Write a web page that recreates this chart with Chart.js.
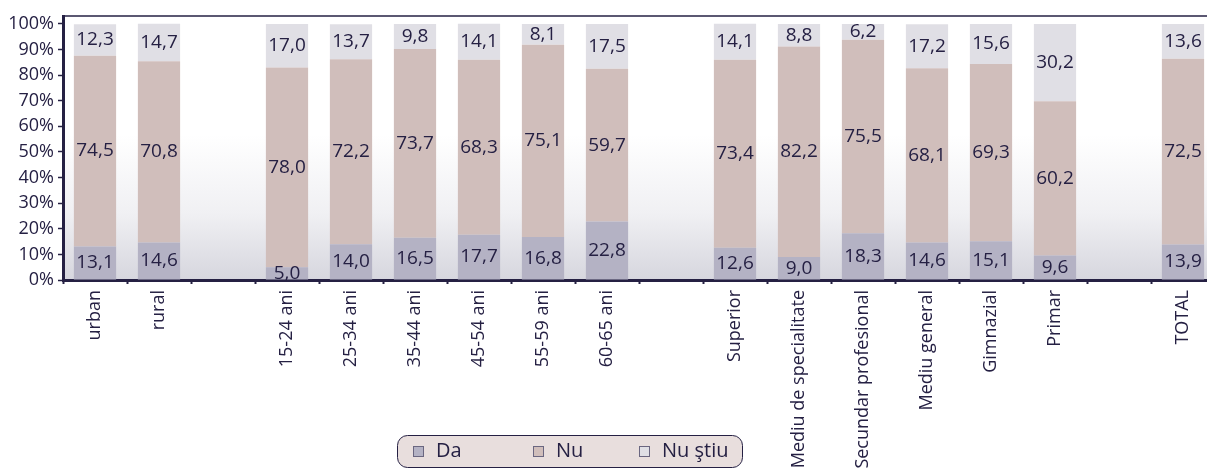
<!DOCTYPE html>
<html>
<head>
<meta charset="utf-8">
<script src="https://cdn.jsdelivr.net/npm/chart.js@4.4.1/dist/chart.umd.min.js"></script>
<style>
  html, body { margin: 0; padding: 0; background: #fff; overflow: hidden; }
  #wrap { width: 1207px; height: 469px; overflow: hidden; position: relative; }
  #grafic { display: block; }
</style>
</head>
<body>
<div id="wrap"><canvas id="grafic" width="1216" height="469"></canvas></div>
<script>
// categorii (golurile separă grupele)
const categorii = ['urban', 'rural', '', '15-24 ani', '25-34 ani', '35-44 ani', '45-54 ani', '55-59 ani', '60-65 ani', '',
    'Superior', 'Mediu de specialitate', 'Secundar profesional', 'Mediu general', 'Gimnazial', 'Primar', '', 'TOTAL'];

// procente pe fiecare răspuns
const da = [13.1, 14.6, null, 5.0, 14.0, 16.5, 17.7, 16.8, 22.8, null, 12.6, 9.0, 18.3, 14.6, 15.1, 9.6, null, 13.9];
const nu = [74.5, 70.8, null, 78.0, 72.2, 73.7, 68.3, 75.1, 59.7, null, 73.4, 82.2, 75.5, 68.1, 69.3, 60.2, null, 72.5];
const nuStiu = [12.3, 14.7, null, 17.0, 13.7, 9.8, 14.1, 8.1, 17.5, null, 14.1, 8.8, 6.2, 17.2, 15.6, 30.2, null, 13.6];

const serii = ['Da', 'Nu', 'Nu ştiu'];
const culori = ['#b4b2c4', '#d0bebb', '#e0dfe5'];

// valori axa Y
const ticksY = [0, 10, 20, 30, 40, 50, 60, 70, 80, 90, 100];

const albastru = '#252043';
const font = '"Open Sans", "Noto Sans", sans-serif';

// fundal cu degrade în zona graficului
const fundal = {
    id: 'fundal',
    beforeDraw(chart) {
        const { ctx, chartArea: a } = chart;
        const g = ctx.createLinearGradient(0, a.top, 0, a.bottom);
        g.addColorStop(0, '#ffffff');
        g.addColorStop(0.45, '#ffffff');
        g.addColorStop(0.75, '#f0f0f3');
        g.addColorStop(1, '#d6d6de');
        ctx.save();
        ctx.fillStyle = g;
        ctx.fillRect(a.left, a.top, a.right - a.left, a.bottom - a.top);
        // linia de sus a cadrului
        ctx.strokeStyle = albastru;
        ctx.lineWidth = 1.5;
        ctx.beginPath();
        ctx.moveTo(a.left, a.top);
        ctx.lineTo(a.right, a.top);
        ctx.stroke();
        ctx.restore();
    }
};

// valorile scrise în mijlocul fiecărui segment
const etichete = {
    id: 'etichete',
    afterDatasetsDraw(chart) {
        const { ctx } = chart;
        ctx.save();
        ctx.font = '19px ' + font;
        ctx.fillStyle = albastru;
        ctx.textAlign = 'center';
        ctx.textBaseline = 'middle';
        chart.data.datasets.forEach((ds, i) => {
            chart.getDatasetMeta(i).data.forEach((bar, j) => {
                const v = ds.data[j];
                if (v == null) return;
                const p = bar.getCenterPoint();
                ctx.fillText(v.toFixed(1).replace('.', ','), p.x, p.y);
            });
        });
        ctx.restore();
    }
};

// legenda în cutie rotunjită
const legenda = {
    id: 'legenda',
    afterDraw(chart) {
        const { ctx } = chart;
        const pozitii = [413, 533, 639];
        ctx.save();
        ctx.beginPath();
        ctx.roundRect(397.5, 435.5, 345, 32, 10);
        ctx.fillStyle = '#e8dedd';
        ctx.fill();
        ctx.strokeStyle = albastru;
        ctx.lineWidth = 1;
        ctx.stroke();
        ctx.font = '20px ' + font;
        ctx.textBaseline = 'middle';
        serii.forEach((s, i) => {
            const x = pozitii[i];
            ctx.fillStyle = culori[i];
            ctx.fillRect(x, 446, 11, 11);
            ctx.strokeStyle = '#6a6680';
            ctx.strokeRect(x + 0.5, 446.5, 10, 10);
            ctx.fillStyle = albastru;
            ctx.fillText(s, x + 23, 451);
        });
        ctx.restore();
    }
};

new Chart(document.getElementById('grafic').getContext('2d'), {
    type: 'bar',
    data: {
        labels: categorii,
        datasets: [da, nu, nuStiu].map((d, i) => ({
            label: serii[i],
            data: d,
            backgroundColor: culori[i],
            borderWidth: 0,
            barPercentage: 0.66,
            categoryPercentage: 1
        }))
    },
    options: {
        responsive: false,
        animation: false,
        devicePixelRatio: 1,
        layout: { padding: { top: 16, left: 0, right: 1, bottom: 0 } },
        plugins: {
            legend: { display: false },
            tooltip: { enabled: false }
        },
        scales: {
            x: {
                stacked: true,
                z: 1,
                border: { display: true, color: albastru, width: 3 },
                grid: { drawOnChartArea: false, drawTicks: true, tickLength: 4, tickColor: albastru, tickWidth: 2, offset: true },
                ticks: {
                    autoSkip: false,
                    maxRotation: 90,
                    minRotation: 90,
                    padding: 6,
                    color: albastru,
                    font: { family: font, size: 18 }
                },
                afterFit(scale) { scale.height = 189; }
            },
            y: {
                stacked: true,
                min: 0,
                max: 103.1,
                border: { display: true, color: albastru, width: 3 },
                grid: { drawOnChartArea: false, drawTicks: true, tickLength: 5, tickColor: albastru, tickWidth: 1.5 },
                afterBuildTicks(scale) { scale.ticks = ticksY.map(v => ({ value: v })); },
                ticks: {
                    padding: 4,
                    color: albastru,
                    font: { family: font, size: 18 },
                    callback: v => v + '%'
                },
                afterFit(scale) { scale.width = 63; }
            }
        }
    },
    plugins: [fundal, etichete, legenda]
});
</script>
</body>
</html>
